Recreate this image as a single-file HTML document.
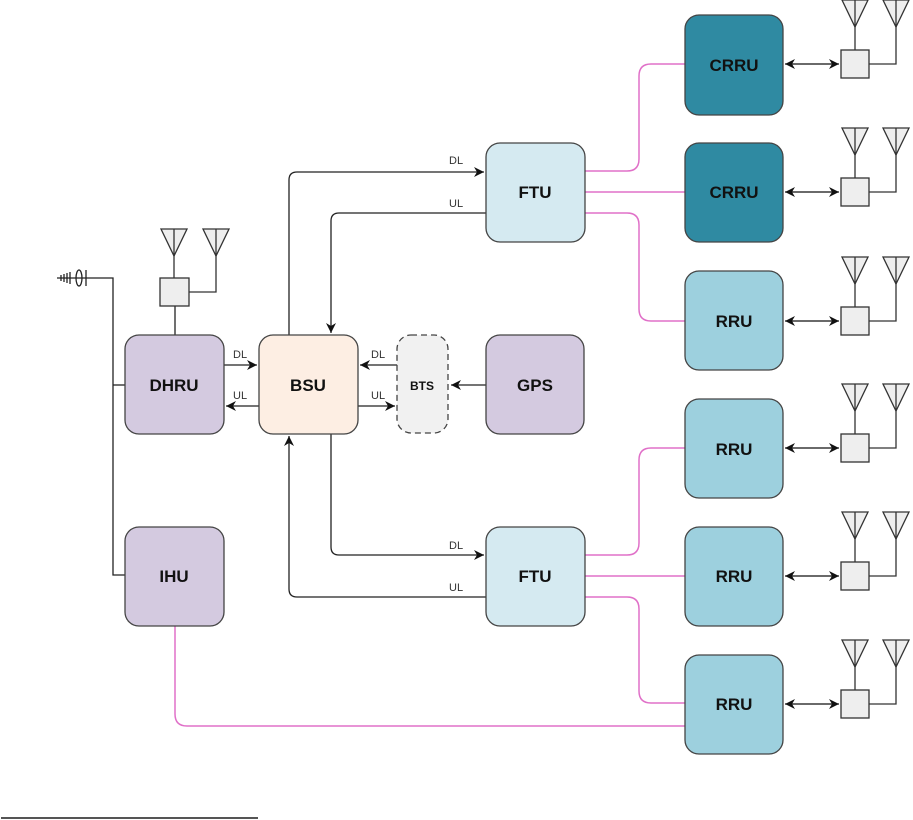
<!DOCTYPE html>
<html><head><meta charset="utf-8"><style>
html,body{margin:0;padding:0;background:#fff;}
svg{display:block;}
text{font-family:"Liberation Sans",Arial,sans-serif;}
.b{font-weight:bold;font-size:17px;fill:#111;text-anchor:middle;}
.l{font-size:11px;fill:#333;}
</style></head><body>
<svg width="913" height="820" viewBox="0 0 913 820" xmlns="http://www.w3.org/2000/svg">
<defs>
<marker id="a" viewBox="0 0 10 10" refX="10" refY="5" markerWidth="10" markerHeight="10" orient="auto-start-reverse" markerUnits="userSpaceOnUse"><path d="M0,0 L10,5 L0,10 L3,5 z" fill="#111"/></marker>
<g id="ant">
<path d="M0,-27 L26,-27 L13,0 z" fill="#eee" stroke="#333" stroke-width="1.3"/>
<line x1="13" y1="-27" x2="13" y2="0" stroke="#333" stroke-width="1.3"/>
</g>
<g id="grp">
<use href="#ant" x="842" y="-37"/>
<use href="#ant" x="883" y="-37"/>
<line x1="855" y1="-37" x2="855" y2="-14" stroke="#333" stroke-width="1.3"/>
<polyline points="896,-37 896,0 869,0" fill="none" stroke="#333" stroke-width="1.3"/>
<rect x="841" y="-14" width="28" height="28" fill="#eee" stroke="#333" stroke-width="1.3"/>
<line x1="785" y1="0" x2="839" y2="0" stroke="#111" stroke-width="1.3" marker-start="url(#a)" marker-end="url(#a)"/>
</g>
</defs>

<g fill="none" stroke="#e070c8" stroke-width="1.5">
<path d="M585,171 H627 Q639,171 639,159 V76 Q639,64 651,64 H685"/>
<path d="M585,192 H685"/>
<path d="M585,213 H627 Q639,213 639,225 V309 Q639,321 651,321 H685"/>
<path d="M585,555 H627 Q639,555 639,543 V460 Q639,448 651,448 H685"/>
<path d="M585,576 H685"/>
<path d="M585,597 H627 Q639,597 639,609 V691 Q639,703 651,703 H685"/>
<path d="M175,626 V714 Q175,726 187,726 H685"/>
</g>

<g fill="none" stroke="#222" stroke-width="1.3">
<path d="M289,335 V180 Q289,172 297,172 H484" marker-end="url(#a)"/>
<path d="M486,213 H339 Q331,213 331,221 V333" marker-end="url(#a)"/>
<path d="M331,434 V547 Q331,555 339,555 H484" marker-end="url(#a)"/>
<path d="M486,597 H297 Q289,597 289,589 V436" marker-end="url(#a)"/>
<path d="M224,365 H257" marker-end="url(#a)"/>
<path d="M259,406 H226" marker-end="url(#a)"/>
<path d="M397,365 H360" marker-end="url(#a)"/>
<path d="M358,406 H395" marker-end="url(#a)"/>
<path d="M486,385 H451" marker-end="url(#a)"/>
<path d="M90,278 H113 V575 H125"/>
<path d="M113,385 H125"/>
<path d="M175,306 V335"/>
</g>
<g class="l">
<text x="449" y="164">DL</text><text x="449" y="207">UL</text>
<text x="449" y="549">DL</text><text x="449" y="591">UL</text>
<text x="233" y="358">DL</text><text x="233" y="399">UL</text>
<text x="371" y="358">DL</text><text x="371" y="399">UL</text>
</g>

<g stroke="#222" stroke-width="1.3" fill="none">
<line x1="57" y1="278" x2="90" y2="278"/>
<line x1="61" y1="275" x2="61" y2="281"/>
<line x1="64" y1="274" x2="64" y2="282"/>
<line x1="67" y1="273" x2="67" y2="283"/>
<line x1="70" y1="272" x2="70" y2="284"/>
<ellipse cx="79" cy="278" rx="3" ry="8"/>
<line x1="86" y1="270" x2="86" y2="286"/>
</g>

<use href="#ant" x="161" y="256"/>
<use href="#ant" x="203" y="256"/>
<line x1="174" y1="256" x2="174" y2="278" stroke="#333" stroke-width="1.3"/>
<polyline points="216,256 216,292 189,292" fill="none" stroke="#333" stroke-width="1.3"/>
<rect x="160" y="278" width="29" height="28" fill="#eee" stroke="#333" stroke-width="1.3"/>

<use href="#grp" y="64"/>
<use href="#grp" y="192"/>
<use href="#grp" y="321"/>
<use href="#grp" y="448"/>
<use href="#grp" y="576"/>
<use href="#grp" y="704"/>

<g stroke="#444" stroke-width="1.3">
<rect x="685" y="15" width="98" height="100" rx="14" fill="#2f8aa2"/>
<rect x="685" y="143" width="98" height="99" rx="14" fill="#2f8aa2"/>
<rect x="685" y="271" width="98" height="99" rx="14" fill="#9dd0de"/>
<rect x="685" y="399" width="98" height="99" rx="14" fill="#9dd0de"/>
<rect x="685" y="527" width="98" height="99" rx="14" fill="#9dd0de"/>
<rect x="685" y="655" width="98" height="99" rx="14" fill="#9dd0de"/>
<rect x="486" y="143" width="99" height="99" rx="14" fill="#d5eaf1"/>
<rect x="486" y="527" width="99" height="99" rx="14" fill="#d5eaf1"/>
<rect x="486" y="335" width="98" height="99" rx="14" fill="#d4cae0"/>
<rect x="259" y="335" width="99" height="99" rx="14" fill="#fdeee3"/>
<rect x="125" y="335" width="99" height="99" rx="14" fill="#d4cae0"/>
<rect x="125" y="527" width="99" height="99" rx="14" fill="#d4cae0"/>
<rect x="397" y="335" width="51" height="98" rx="14" fill="#f1f1f1" stroke-dasharray="6,4"/>
</g>
<g class="b">
<text x="734" y="71">CRRU</text><text x="734" y="198">CRRU</text>
<text x="734" y="327">RRU</text><text x="734" y="455">RRU</text>
<text x="734" y="582">RRU</text><text x="734" y="710">RRU</text>
<text x="535" y="198">FTU</text><text x="535" y="582">FTU</text>
<text x="535" y="391">GPS</text><text x="308" y="391">BSU</text>
<text x="174" y="391">DHRU</text><text x="174" y="582">IHU</text>
<text x="422" y="390" style="font-size:12px">BTS</text>
</g>
<line x1="1" y1="818" x2="258" y2="818" stroke="#555" stroke-width="2"/>
</svg>
</body></html>
